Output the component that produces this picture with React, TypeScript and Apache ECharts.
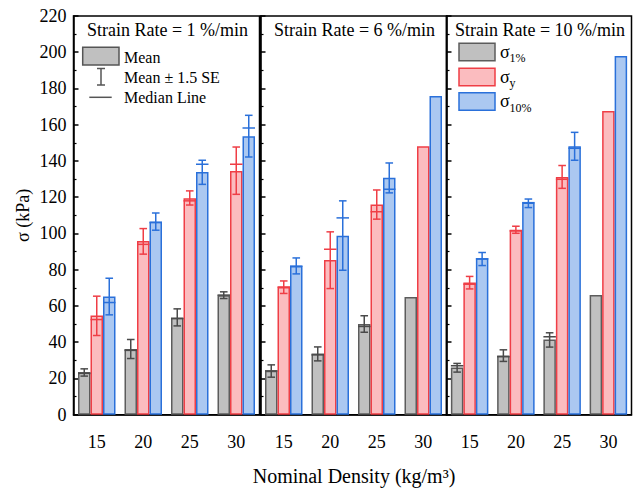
import React, { useEffect, useRef } from "react";
import * as echarts from "echarts";

const CATEGORIES = ["15", "20", "25", "30"];
const PANEL_TITLES = ["Strain Rate = 1 %/min", "Strain Rate = 6 %/min", "Strain Rate = 10 %/min"];
const Y_TICKS = { min: 0, max: 220, interval: 20 };

// Panel 1: 1 %/min
const P1_S1_MEAN = [23.5, 36.2, 53.6, 65.9];
const P1_S1_LO = [21.3, 31.0, 49.0, 64.1];
const P1_S1_HI = [25.3, 41.5, 58.4, 67.8];
const P1_S1_MED = [22.8, 35.5, 53.0, 66.0];
const P1_SY_MEAN = [54.7, 95.9, 119.4, 134.5];
const P1_SY_LO = [43.7, 88.6, 115.7, 121.6];
const P1_SY_HI = [65.4, 102.7, 123.5, 147.7];
const P1_SY_MED = [52.5, 94.0, 118.0, 138.2];
const P1_S10_MEAN = [65.2, 106.6, 133.9, 153.6];
const P1_S10_LO = [55.1, 101.8, 127.1, 142.2];
const P1_S10_HI = [75.3, 111.3, 140.4, 165.2];
const P1_S10_MED = [61.9, 106.0, 138.2, 158.2];

// Panel 2: 6 %/min
const P2_S1_MEAN = [24.2, 33.8, 50.0, 65.0];
const P2_S1_LO = [20.7, 29.7, 45.5, null];
const P2_S1_HI = [27.5, 37.4, 54.6, null];
const P2_S1_MED = [24.2, 33.0, 48.7, null];
const P2_SY_MEAN = [70.5, 85.4, 116.0, 148.1];
const P2_SY_LO = [66.9, 69.6, 107.9, null];
const P2_SY_HI = [73.8, 100.9, 124.0, null];
const P2_SY_MED = [70.5, 91.3, 112.0, null];
const P2_S10_MEAN = [82.1, 98.8, 130.8, 175.8];
const P2_S10_LO = [77.7, 79.7, 122.4, null];
const P2_S10_HI = [86.5, 118.0, 138.9, null];
const P2_S10_MED = [82.0, 108.6, 124.4, null];

// Panel 3: 10 %/min
const P3_S1_MEAN = [26.1, 32.7, 41.5, 66.1];
const P3_S1_LO = [23.5, 29.4, 37.3, null];
const P3_S1_HI = [28.3, 35.8, 45.2, null];
const P3_S1_MED = [27.0, 32.0, 43.0, null];
const P3_SY_MEAN = [72.9, 102.0, 131.2, 167.6];
const P3_SY_LO = [69.4, 100.1, 124.9, null];
const P3_SY_HI = [76.3, 104.0, 137.5, null];
const P3_SY_MED = [72.0, 101.4, 129.9, null];
const P3_S10_MEAN = [86.3, 117.1, 148.1, 197.9];
const P3_S10_LO = [82.3, 114.3, 140.4, null];
const P3_S10_HI = [89.5, 119.0, 155.8, null];
const P3_S10_MED = [86.0, 117.0, 147.0, null];

const FONT = "Liberation Serif";
const BAR_W = 12.5;
const STYLES = [
  { fill: "#c0c0c0", border: "#5c5c5c", err: "#4a4a4a" },
  { fill: "#fbbcbf", border: "#ef3e46", err: "#ef3e46" },
  { fill: "#abc8f1", border: "#2a70da", err: "#2a70da" },
];
const GRIDS = [
  { left: 73.5, width: 186 },
  { left: 260.5, width: 186 },
  { left: 446.5, width: 185 },
];
const GRID_TOP = 16;
const GRID_H = 398.7;

type Arr = (number | null)[];
const PANELS: { mean: Arr; lo: Arr; hi: Arr; med: Arr }[][] = [
  [
    { mean: P1_S1_MEAN, lo: P1_S1_LO, hi: P1_S1_HI, med: P1_S1_MED },
    { mean: P1_SY_MEAN, lo: P1_SY_LO, hi: P1_SY_HI, med: P1_SY_MED },
    { mean: P1_S10_MEAN, lo: P1_S10_LO, hi: P1_S10_HI, med: P1_S10_MED },
  ],
  [
    { mean: P2_S1_MEAN, lo: P2_S1_LO, hi: P2_S1_HI, med: P2_S1_MED },
    { mean: P2_SY_MEAN, lo: P2_SY_LO, hi: P2_SY_HI, med: P2_SY_MED },
    { mean: P2_S10_MEAN, lo: P2_S10_LO, hi: P2_S10_HI, med: P2_S10_MED },
  ],
  [
    { mean: P3_S1_MEAN, lo: P3_S1_LO, hi: P3_S1_HI, med: P3_S1_MED },
    { mean: P3_SY_MEAN, lo: P3_SY_LO, hi: P3_SY_HI, med: P3_SY_MED },
    { mean: P3_S10_MEAN, lo: P3_S10_LO, hi: P3_S10_HI, med: P3_S10_MED },
  ],
];

function txt(text: string, x: number, y: number, size: number, align = "left") {
  return {
    type: "text",
    x,
    y,
    style: {
      text,
      fill: "#000",
      fontSize: size,
      fontFamily: FONT,
      align,
      verticalAlign: "middle",
    },
  };
}

function buildOption() {
  const grid: any[] = [];
  const xAxis: any[] = [];
  const yAxis: any[] = [];
  const series: any[] = [];
  const graphic: any[] = [];

  GRIDS.forEach((g, i) => {
    grid.push({
      left: g.left,
      top: GRID_TOP,
      width: g.width,
      height: GRID_H,
      show: true,
      borderColor: "#000",
      borderWidth: 1.5,
      backgroundColor: "transparent",
    });
    xAxis.push({
      gridIndex: i,
      type: "category",
      data: CATEGORIES,
      axisLine: { lineStyle: { color: "#000", width: 1.5 } },
      axisTick: { alignWithLabel: true, length: 6, lineStyle: { color: "#000", width: 1.5 } },
      axisLabel: { color: "#000", fontSize: 18, fontFamily: FONT, margin: 18 },
      splitLine: { show: false },
    });
    yAxis.push({
      gridIndex: i,
      type: "value",
      min: Y_TICKS.min,
      max: Y_TICKS.max,
      interval: Y_TICKS.interval,
      axisLine: { show: true, lineStyle: { color: "#000", width: 1.5 } },
      axisTick: { show: true, inside: true, length: 5, lineStyle: { color: "#000", width: 1.5 } },
      minorTick: { show: true, splitNumber: 2, length: 3, lineStyle: { color: "#000", width: 1.2 } },
      axisLabel: { show: i === 0, color: "#000", fontSize: 18, fontFamily: FONT, margin: 7 },
      splitLine: { show: false },
      minorSplitLine: { show: false },
      name: i === 0 ? "σ (kPa)" : "",
      nameLocation: "middle",
      nameGap: 42,
      nameTextStyle: { color: "#000", fontSize: 18, fontFamily: FONT },
    });

    PANELS[i].forEach((s, k) => {
      const st = STYLES[k];
      series.push({
        type: "bar",
        xAxisIndex: i,
        yAxisIndex: i,
        data: s.mean,
        barWidth: BAR_W,
        barGap: "0%",
        itemStyle: { color: st.fill, borderColor: st.border, borderWidth: 1.5 },
        silent: true,
      });
    });
    PANELS[i].forEach((s, k) => {
      const st = STYLES[k];
      const offset = k - 1;
      const data: any[] = [];
      s.lo.forEach((lo, c) => {
        if (lo != null && s.hi[c] != null) data.push([c, lo, s.hi[c], s.med[c]]);
      });
      series.push({
        type: "custom",
        xAxisIndex: i,
        yAxisIndex: i,
        data,
        encode: { x: 0, y: [1, 2, 3] },
        z: 5,
        silent: true,
        renderItem: (params: any, api: any) => {
          const c = api.value(0);
          const lo = api.value(1);
          const hi = api.value(2);
          const med = api.value(3);
          const base = api.coord([c, 0]);
          const cx = base[0] + offset * BAR_W;
          const yLo = api.coord([c, lo])[1];
          const yHi = api.coord([c, hi])[1];
          const yMed = api.coord([c, med])[1];
          const cap = 3.8;
          const half = BAR_W / 2;
          const ls = { stroke: st.err, lineWidth: 1.5 };
          return {
            type: "group",
            children: [
              { type: "line", shape: { x1: cx, y1: yLo, x2: cx, y2: yHi }, style: ls },
              { type: "line", shape: { x1: cx - cap, y1: yLo, x2: cx + cap, y2: yLo }, style: ls },
              { type: "line", shape: { x1: cx - cap, y1: yHi, x2: cx + cap, y2: yHi }, style: ls },
              { type: "line", shape: { x1: cx - half, y1: yMed, x2: cx + half, y2: yMed }, style: ls },
            ],
          };
        },
      });
    });

    graphic.push(txt(PANEL_TITLES[i], g.left + g.width / 2 + 1, 30, 18, "center"));
  });

  // x axis name
  graphic.push(txt("Nominal Density (kg/m³)", 354, 476, 20, "center"));

  // Legend in panel 1
  const lg = "#555";
  graphic.push(
    { type: "rect", shape: { x: 82.7, y: 47.3, width: 36.3, height: 17.7 }, style: { fill: "#c0c0c0", stroke: lg, lineWidth: 1.5 } },
    txt("Mean", 124, 57, 16),
    { type: "line", shape: { x1: 101, y1: 68.5, x2: 101, y2: 85 }, style: { stroke: lg, lineWidth: 1.5 } },
    { type: "line", shape: { x1: 97, y1: 68.5, x2: 105, y2: 68.5 }, style: { stroke: lg, lineWidth: 1.5 } },
    { type: "line", shape: { x1: 97, y1: 85, x2: 105, y2: 85 }, style: { stroke: lg, lineWidth: 1.5 } },
    txt("Mean ± 1.5 SE", 124, 77, 16),
    { type: "line", shape: { x1: 89.3, y1: 97.3, x2: 111.7, y2: 97.3 }, style: { stroke: lg, lineWidth: 1.5 } },
    txt("Median Line", 124, 97.5, 16)
  );

  // Legend in panel 3
  const subs = ["1%", "y", "10%"];
  const rectYs = [43.3, 68.3, 92.7];
  rectYs.forEach((ry, k) => {
    graphic.push(
      { type: "rect", shape: { x: 459, y: ry, width: 36, height: 17.5 }, style: { fill: STYLES[k].fill, stroke: STYLES[k].border, lineWidth: 1.5 } },
      txt("σ", 500, ry + 8.5, 18),
      txt(subs[k], 509.5, ry + 15, 12)
    );
  });

  return {
    animation: false,
    backgroundColor: "#fff",
    textStyle: { fontFamily: FONT },
    grid,
    xAxis,
    yAxis,
    series,
    graphic,
  };
}

export default function App() {
  const ref = useRef<HTMLDivElement>(null);
  useEffect(() => {
    if (!ref.current) return;
    const chart = echarts.init(ref.current, null, { renderer: "svg" });
    chart.setOption(buildOption() as any);
    return () => chart.dispose();
  }, []);
  return (
    <div
      ref={ref}
      style={{ position: "fixed", left: 0, top: 0, width: 636, height: 490, background: "#fff" }}
    />
  );
}
